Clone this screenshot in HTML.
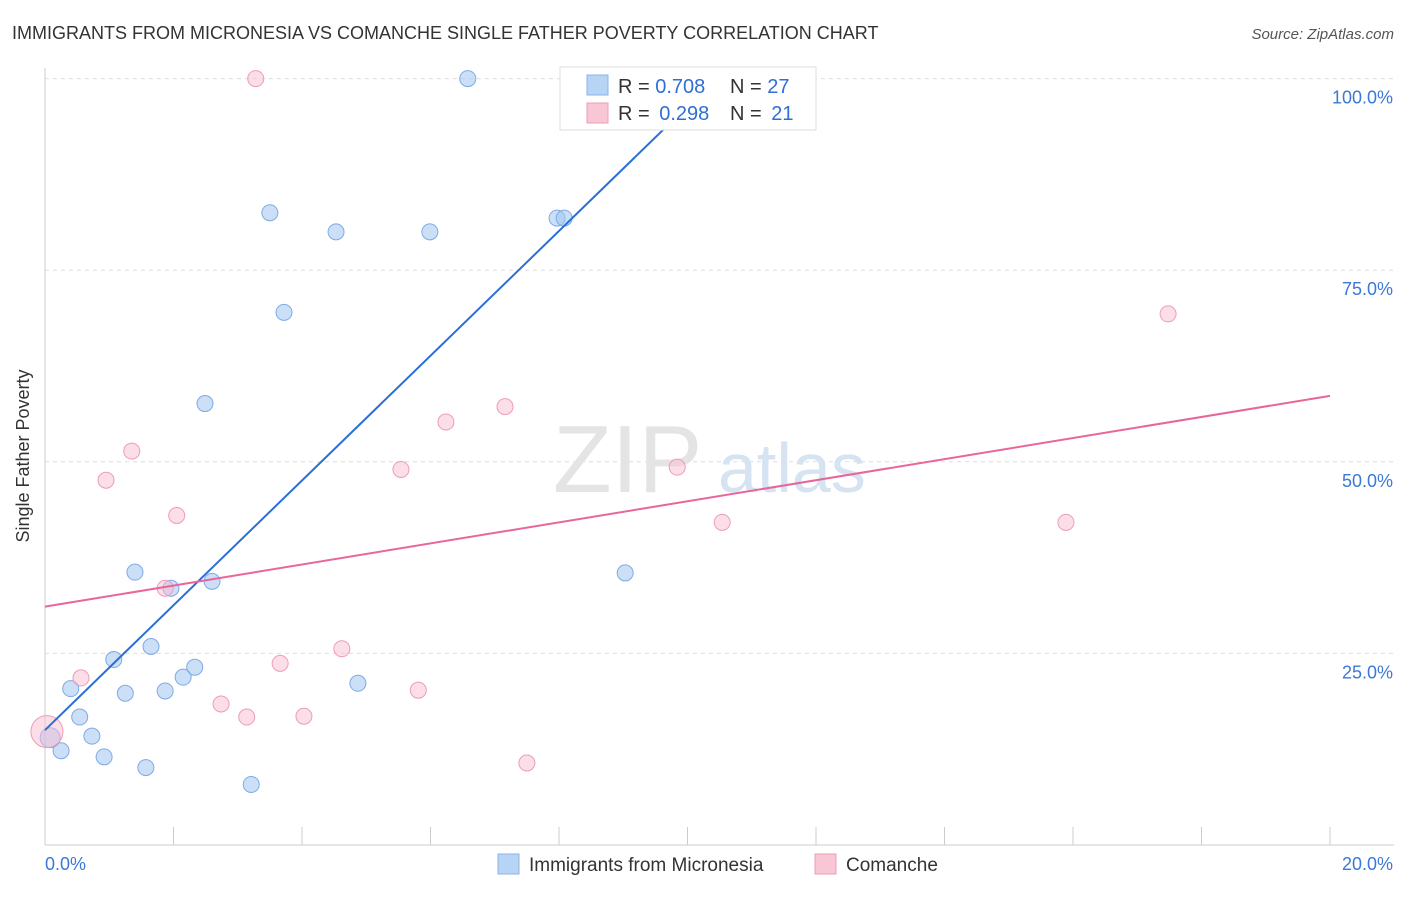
<!DOCTYPE html>
<html><head><meta charset="utf-8"><style>
body{margin:0;background:#fff;font-family:"Liberation Sans",sans-serif}
svg text{font-family:"Liberation Sans",sans-serif}
</style></head><body>
<svg id="c" width="1406" height="892" xmlns="http://www.w3.org/2000/svg">
<text x="12" y="39" font-size="18" fill="#333">IMMIGRANTS FROM MICRONESIA VS COMANCHE SINGLE FATHER POVERTY CORRELATION CHART</text>
<text x="1394" y="39" font-size="15" fill="#555" text-anchor="end" font-style="italic">Source: ZipAtlas.com</text>
<text x="29" y="456" font-size="18" fill="#333" text-anchor="middle" transform="rotate(-90 29 456)">Single Father Poverty</text>
<g id="grid"></g>
<text x="553" y="492" font-size="96" fill="#e4e4e4" font-family="Liberation Serif">ZIP</text>
<text x="718" y="492" font-size="70" fill="#d5e3f3">atlas</text>
<g id="marks"></g>
<g>
<rect x="560" y="67" width="256" height="63" fill="#fff" stroke="#ddd"/>
<rect x="587" y="75" width="21" height="20" fill="#b8d4f5" stroke="#88b4e8"/>
<rect x="587" y="103" width="21" height="20" fill="#f9c6d5" stroke="#ee9cb6"/>
<text x="618" y="93" font-size="20" fill="#333">R = <tspan fill="#2f6fd4">0.708</tspan></text>
<text x="730" y="93" font-size="20" fill="#333">N = <tspan fill="#2f6fd4">27</tspan></text>
<text x="618" y="120" font-size="20" fill="#333">R = <tspan fill="#2f6fd4" dx="4">0.298</tspan></text>
<text x="730" y="120" font-size="20" fill="#333">N = <tspan fill="#2f6fd4" dx="4">21</tspan></text>
</g>
<g>
<rect x="498" y="854" width="21" height="20" fill="#b8d4f5" stroke="#88b4e8"/>
<text x="529" y="871" font-size="19" fill="#333">Immigrants from Micronesia</text>
<rect x="815" y="854" width="21" height="20" fill="#f9c6d5" stroke="#ee9cb6"/>
<text x="846" y="871" font-size="19" fill="#333">Comanche</text>
</g>
</svg>
<script>
const blueX=[6.58,3.50,4.53,5.99,7.97,8.08,3.72,2.49,1.40,1.96,2.60,1.65,1.07,2.33,2.15,0.40,1.25,1.87,4.87,0.54,0.73,0.25,0.92,1.57,3.21,9.03,0.08];
const blueY=[100,82.5,80.0,80.0,81.8,81.8,69.5,57.6,35.6,33.5,34.4,25.9,24.2,23.2,21.9,20.4,19.8,20.1,21.1,16.7,14.2,12.3,11.5,10.1,7.9,35.5,14.0];
const pinkX=[3.28,17.48,7.16,6.24,1.35,5.54,9.84,0.95,2.05,10.54,15.89,1.87,4.62,0.56,3.66,5.81,2.74,3.14,4.03,7.50,0.03];
const pinkY=[100,69.3,57.2,55.2,51.4,49.0,49.3,47.6,43.0,42.1,42.1,33.5,25.6,21.8,23.7,20.2,18.4,16.7,16.8,10.7,14.8];
const blueTrend=[15.0,8.14];
const pinkTrend=[31.1,1.375];
const yTicks=[25,50,75,100];
const yTickLabels=["25.0%","50.0%","75.0%","100.0%"];
const xTicks=[0,2,4,6,8,10,12,14,16,18,20];
const X=v=>45+v*64.25, Y=v=>845-v*7.664;
const NS="http://www.w3.org/2000/svg";
function el(t,a,p){const e=document.createElementNS(NS,t);for(const k in a)e.setAttribute(k,a[k]);p.appendChild(e);return e;}
const g=document.getElementById('grid'), m=document.getElementById('marks');
const ya=el('line',{x1:45,y1:68,x2:45,y2:845,stroke:'#ccc'},g);


const xa=el('line',{x1:45,y1:845,x2:1394,y2:845,stroke:'#ccc'},g);


yTicks.forEach((v,i)=>{
 const l=el('line',{x1:45,y1:Y(v),x2:1394,y2:Y(v),stroke:'#ddd','stroke-dasharray':'4 4'},g);
 
 
 const t=el('text',{x:1393,y:Y(v)+25,'font-size':18,fill:'#3b78d8','text-anchor':'end'},g);
 t.textContent=yTickLabels[i];
 
 
});
xTicks.forEach(v=>{
 const l=el('line',{x1:X(v),y1:827,x2:X(v),y2:845,stroke:'#ccc'},g);
 
 
});
const x0=el('text',{x:45,y:870,'font-size':18,fill:'#3b78d8'},g);x0.textContent='0.0%';


const x1=el('text',{x:1393,y:870,'font-size':18,fill:'#3b78d8','text-anchor':'end'},g);x1.textContent='20.0%';


blueX.forEach((v,i)=>{
 const c=el('circle',{cx:X(v),cy:Y(blueY[i]),r:i==26?10:8,fill:'rgba(160,196,240,0.55)',stroke:'#7eaae6','stroke-width':1},m);
 
 
});
pinkX.forEach((v,i)=>{
 const c=el('circle',{cx:X(v),cy:Y(pinkY[i]),r:i==20?16:8,fill:'rgba(248,190,210,0.5)',stroke:'#ee9cb6','stroke-width':1},m);
 
 
});
const bxEnd=(100-blueTrend[0])/blueTrend[1];
const bl=el('line',{x1:X(0),y1:Y(blueTrend[0]),x2:X(bxEnd),y2:Y(100),stroke:'#2a6fd6','stroke-width':2},m);


const pl=el('line',{x1:X(0),y1:Y(pinkTrend[0]),x2:X(20),y2:Y(pinkTrend[0]+20*pinkTrend[1]),stroke:'#e8669a','stroke-width':2},m);


</script>
</body></html>
